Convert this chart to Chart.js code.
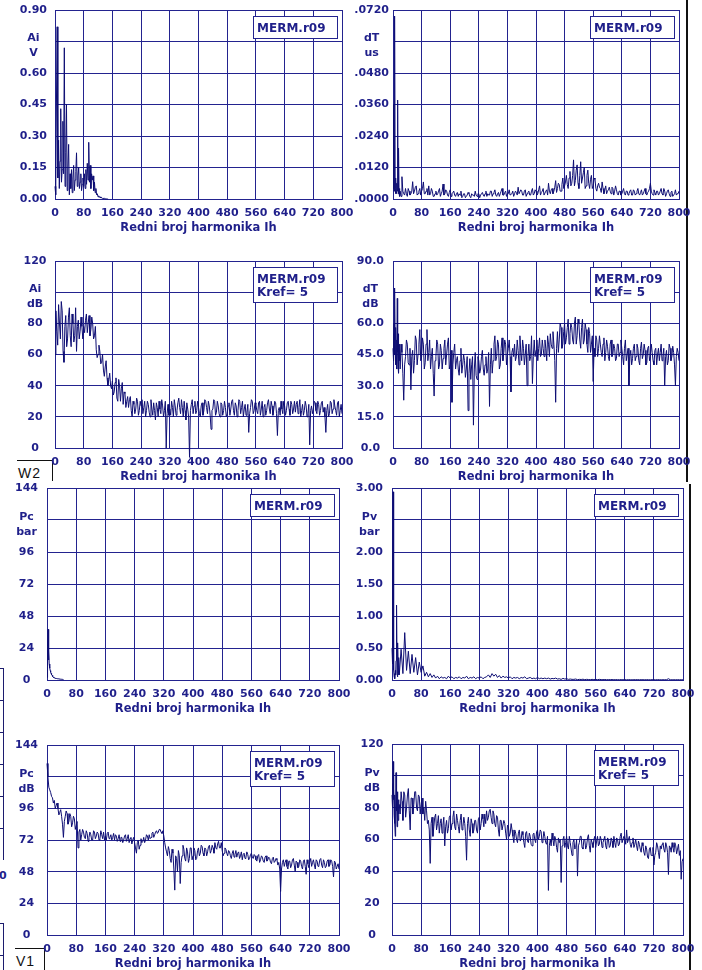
<!DOCTYPE html>
<html>
<head>
<meta charset="utf-8">
<script src="https://cdn.jsdelivr.net/npm/chart.js@4.4.1/dist/chart.umd.min.js"></script>
<style>
html,body{margin:0;padding:0;background:#fff}
#page{position:relative;width:702px;height:970px;overflow:hidden;background:#fff}
#page canvas{position:absolute}
.frag{position:absolute;background:#1c1c6e}
.blk{position:absolute;background:#111}
.tag{position:absolute;font:14px "Liberation Sans",Arial,sans-serif;color:#111;border-top:1px solid #111;border-right:1px solid #111;box-sizing:border-box;padding:4px 0 0 1px;letter-spacing:1px}
.stray{position:absolute;font:bold 11px "DejaVu Sans",sans-serif;color:#1f1f8a}
</style>
</head>
<body>
<div id="page">
  <div class="blk" style="left:686px;top:0;width:2px;height:482px"></div>
  <div class="blk" style="left:689px;top:484px;width:2px;height:486px"></div>
  <div class="frag" style="left:0;top:668px;width:4px;height:1px"></div>
  <div class="frag" style="left:3px;top:668px;width:1px;height:192px"></div>
  <div class="frag" style="left:0;top:700px;width:3px;height:1px"></div>
  <div class="frag" style="left:0;top:732px;width:3px;height:1px"></div>
  <div class="frag" style="left:0;top:764px;width:3px;height:1px"></div>
  <div class="frag" style="left:0;top:796px;width:3px;height:1px"></div>
  <div class="frag" style="left:0;top:828px;width:3px;height:1px"></div>
  <div class="frag" style="left:0;top:923px;width:4px;height:1px"></div>
  <div class="frag" style="left:3px;top:923px;width:1px;height:47px"></div>
  <div class="frag" style="left:0;top:955px;width:3px;height:1px"></div>
  <div class="stray" style="left:-1px;top:869px">0</div>
  <div class="tag" style="left:17px;top:460px;width:36px;height:21px">W2</div>
  <div class="tag" style="left:15px;top:948px;width:30px;height:22px">V1</div>
</div>
<script>
// ---- data (harmonic spectra, MERM.r09) ----
const harmLabels = ['0','80','160','240','320','400','480','560','640','720','800'];

// Ai [V], harmonics 0..150 step 2
const aiVolt = [
  .06,.02,.45,.82,.10,.28,.05,.18,.43,.08,
  .14,.37,.12,.72,.06,.22,.45,.04,.15,.26,
  .02,.12,.05,.14,.03,.10,.16,.04,.09,.13,
  .22,.06,.11,.15,.05,.08,.12,.04,.07,.10,
  .06,.12,.05,.14,.07,.17,.09,.27,.08,.16,
  .05,.12,.09,.11,.04,.08,.03,.05,.02,.025,
  .01,.015,.008,.01,.005,.006,.003,.004,.002,.003,
  .001,.002,0,0,0,0
];
const aiVoltTicks = ['0.00','0.15','0.30','0.45','0.60','','0.90'];
const aiVoltUnit = ['Ai','V'];

// dT [us], harmonics 0..19 step 1, body 20..800 step 5, mid 22.5..797.5 step 5
const dtUsHead = [.004,.010,.036,.003,.012,.0697,.004,.002,.008,.003,.002,.006,.003,.0377,.004,.002,.0194,.002,.004,.001];
const dtUsBody = [
  .003,.0085,.002,.004,.001,.003,.002,.0066,.003,.005,.002,.004,.003,.0065,.002,.004,
  .005,.002,.003,.001,.003,.002,.004,.002,.0057,.002,.003,.001,.0035,.002,.003,.001,
  .0025,.002,.003,.001,.002,.001,.0025,.001,.002,.0015,.003,.001,.002,.0015,.0025,.001,
  .003,.002,.0015,.003,.002,.0035,.001,.0025,.002,.004,.0015,.003,.002,.0035,.0015,.003,
  .002,.0025,.0045,.002,.003,.0015,.0035,.002,.003,.0015,.004,.002,.003,.002,.005,.0025,
  .004,.0015,.0035,.006,.002,.004,.003,.007,.004,.0055,.003,.008,.005,.009,.004,.0105,
  .006,.0149,.007,.013,.004,.0142,.008,.012,.005,.011,.004,.009,.005,.0075,.003,.006,
  .004,.0065,.002,.005,.003,.0045,.002,.004,.003,.0035,.0015,.003,.002,.004,.0015,.003,
  .002,.0035,.0015,.003,.002,.004,.0015,.0035,.002,.004,.0015,.003,.006,.002,.0035,.0015,
  .003,.002,.004,.0015,.003,.002,.0035,.001,.003,.0015,.0035,.002,.003
];
const dtUsMid = [
  .001,.003,.0015,.002,.004,.0015,.003,.002,.0045,.0015,.003,.0015,.004,.002,.003,.0015,
  .0015,.004,.001,.002,.0015,.003,.001,.003,.0015,.0035,.0015,.0025,.001,.0025,.0015,.002,
  .001,.0015,.0005,.002,.0005,.0015,.002,.0005,.0015,.001,.0015,.002,.0005,.002,.0015,.002,
  .001,.0015,.003,.001,.0025,.0015,.002,.001,.003,.0015,.0025,.001,.002,.0015,.002,.001,
  .003,.0015,.002,.0035,.0015,.003,.001,.0025,.0015,.003,.0015,.0035,.0015,.0035,.0015,.003,
  .0015,.003,.0015,.003,.0035,.002,.0045,.0025,.006,.003,.0055,.004,.0065,.0055,.008,.005,
  .009,.005,.011,.006,.009,.006,.01,.004,.009,.006,.0075,.004,.008,.004,.005,.0045,
  .0025,.004,.0035,.002,.0035,.003,.0045,.0015,.005,.002,.003,.0015,.003,.002,.003,.0015,
  .003,.0015,.0035,.0015,.003,.002,.0025,.0015,.003,.002,.0025,.004,.003,.0015,.0025,.003,
  .0015,.003,.002,.004,.001,.003,.002,.0025,.001,.002,.0015,.002
];
const dtUsTicks = ['.0000','.0120','.0240','.0360','.0480','','.0720'];
const dtUsUnit = ['dT','us'];

// Ai [dB], harmonics 0..800 step 5, mid 2.5..797.5 step 5
const aiDb = [
  60,75,92,70,88,55,85,70,90,65,80,72,62,82,75,78,
  78,82,74,85,76,80,72,63,60,62,55,50,52,45,44,40,
  43,36,45,30,40,38,28,35,30,26,33,20,28,25,30,24,
  27,22,30,24,28,20,25,29,18,26,30,22,27,24,0,28,
  25,30,20,27,24,32,22,26,30,18,25,-6,28,22,30,24,
  26,20,29,24,30,22,27,12,25,30,23,27,20,28,24,26,
  22,29,25,31,21,27,24,30,26,20,28,23,10,26,30,24,
  28,22,30,25,20,28,24,31,22,27,25,29,8,26,30,22,
  27,24,30,21,28,25,23,30,26,20,28,24,27,22,2,27,
  25,29,22,28,24,30,26,10,28,22,29,25,27,21,30,24,
  22
];
const aiDbMid = [
  88,66,80,94,62,78,65,84,72,86,68,90,78,70,84,70,
  74,86,80,72,84,70,78,58,66,54,60,46,56,40,48,38,
  34,42,32,44,30,42,36,26,33,31,24,30,22,32,21,30,
  31,26,20,30,23,31,21,24,29,20,25,31,20,30,22,21,
  21,26,31,21,29,26,31,20,24,29,20,24,31,27,22,30,
  22,27,21,31,26,30,21,24,31,21,30,22,29,21,30,20,
  27,21,30,24,29,20,31,22,30,25,21,28,22,31,22,29,
  24,29,21,30,26,21,29,25,30,21,30,22,24,21,25,30,
  21,29,25,30,22,30,28,22,31,24,21,30,20,28,24,22,
  30,24,30,21,29,23,20,24,20,30,22,31,24,29,20,28
];
const aiDbTicks = ['0','20','40','60','80','','120'];
const aiDbUnit = ['Ai','dB'];

// dT [dB], harmonics 0..19 step 1, body 20..800 step 5, mid 22.5..797.5 step 5
const dtDbHead = [48,55,42,60,45,77,50,40,58,44,52,38,72,46,40,55,36,48,42,50];
const dtDbBody = [
  38,46,23,44,50,40,28,47,42,52,45,57,44,50,41,57,
  46,38,48,25,44,50,40,47,43,52,45,53,40,22,46,38,
  44,35,48,40,42,38,18,43,40,11,46,33,42,38,47,35,
  44,38,20,48,42,54,44,50,40,53,46,50,45,52,27,48,
  50,44,47,54,42,48,45,30,50,44,31,52,47,42,53,45,
  48,52,42,50,55,48,50,22,56,52,58,50,60,53,62,55,
  58,50,63,54,60,48,62,52,57,46,55,50,32,44,52,48,
  50,44,53,46,49,42,52,45,48,43,50,46,48,40,52,45,
  30,47,43,50,44,48,40,51,45,47,41,49,44,46,40,48,
  45,42,50,44,30,47,42,48,44,46,30,48,42
];
const dtDbMid = [
  50,36,40,52,41,48,44,36,54,40,50,42,53,38,50,42,
  52,44,36,42,52,38,50,38,48,40,50,38,47,40,50,42,
  38,42,36,45,34,44,36,33,44,38,35,44,36,44,38,40,
  36,46,40,36,50,42,52,38,48,42,52,40,48,44,46,44,
  42,52,40,46,52,40,50,44,42,54,44,44,52,48,44,52,
  44,48,54,44,50,56,42,48,46,60,48,56,50,58,50,60,
  52,60,50,62,52,58,50,60,50,58,46,54,48,54,44,54,
  46,50,42,52,44,50,44,50,42,50,44,52,44,48,42,48,
  44,40,48,42,50,42,48,43,50,40,48,42,50,42,47,40,
  48,46,42,48,44,40,50,42,49,40,44,46
];
const dtDbTicks = ['0.0','15.0','30.0','45.0','60.0','','90.0'];
const dtDbUnit = ['dT','dB'];

// Pc [bar], harmonics 0..45 step 1
const pcBar = [2,8,25,38,15,22,12,10,9,7,6,5,4.5,4,3.5,3,2.6,2.3,2,1.8,1.6,1.5,1.4,1.3,1.2,1.2,1.1,1.1,1,1,
  .9,.9,.8,.8,.8,.7,.7,.6,.6,.6,.5,.5,.5,.4,.3,.2];
const pcBarTicks = ['0','24','48','72','96','','144'];
const pcBarUnit = ['Pc','bar'];

// Pv [bar], harmonics 0..19 step 1, then 20..800 step 5
const pvBarHead = [.5,.25,1.56,2.94,.3,.15,.05,.1,.02,.15,.08,.3,.55,1.17,.1,.05,.58,.2,.08,.35];
const pvBarBody = [
  .08,.48,.1,.74,.15,.45,.1,.4,.12,.35,.08,.28,.12,.22,.06,.12,
  .05,.1,.04,.08,.03,.06,.02,.05,.03,.04,.02,.06,.03,.05,.02,.04,
  .03,.05,.02,.04,.03,.06,.02,.04,.03,.05,.02,.04,.03,.05,.02,.04,
  .05,.08,.04,.1,.06,.09,.04,.07,.03,.06,.04,.05,.03,.05,.02,.04,
  .03,.04,.02,.04,.03,.05,.02,.03,.04,.02,.03,.02,.04,.02,.03,.02,
  .03,.02,.03,.015,.025,.02,.03,.015,.02,.01,.025,.015,.02,.01,.015,.01,
  .01,.015,.005,.01,.008,.012,.005,.01,.008,.005,.01,.006,.008,.005,.01,.006,
  .005,.008,.004,.006,.005,.007,.004,.006,.005,.004,.006,.004,.005,.003,.005,.004,
  .003,.005,.004,.006,.003,.005,.004,.003,.005,.004,.003,.005,.004,.003,.005,.004,
  .003,.004,.003,.005,.02,.004,.003,.004,.003,.005,.003,.004,.003
];
const pvBarTicks = ['0.00','0.50','1.00','1.50','2.00','','3.00'];
const pvBarUnit = ['Pv','bar'];

// Pc [dB], harmonics 0..800 step 5, mid 2.5..797.5 step 5
const pcDb = [
  130,112,108,104,102,98,96,93,90,74,90,92,86,90,85,88,
  83,66,80,76,78,73,77,74,76,72,78,75,77,73,76,78,
  75,77,73,76,74,72,75,73,71,74,72,76,73,70,74,72,
  70,62,72,68,70,74,72,75,76,74,78,76,79,78,80,77,
  75,66,60,64,55,62,34,58,64,39,60,65,56,63,58,66,
  60,64,58,66,62,67,60,65,63,68,64,66,70,65,71,66,
  64,62,65,60,63,58,64,61,59,63,60,57,62,59,61,58,
  62,58,60,56,61,57,59,55,60,57,58,54,59,56,57,55,
  33,55,52,57,50,56,53,58,48,55,52,56,50,57,46,54,
  55,52,57,50,56,53,58,51,55,52,57,53,56,44,55,52,
  50
];
const pcDbMid = [
  120,110,105,100,96,100,91,95,84,86,94,84,92,82,90,80,
  86,78,72,80,74,79,71,78,72,79,73,78,72,79,73,72,
  72,78,74,72,77,76,71,76,74,70,75,71,76,73,69,74,
  66,70,65,73,71,70,76,72,73,77,74,78,77,80,78,79,
  70,63,67,58,65,50,60,48,60,55,68,58,66,55,66,57,
  66,57,64,60,68,62,66,60,67,62,68,62,66,69,66,70,
  60,66,62,64,60,62,59,64,62,58,63,61,58,63,57,61,
  59,61,57,60,55,60,56,59,56,59,55,58,55,58,53,50,
  50,57,55,52,56,51,57,53,56,51,57,52,56,52,57,51,
  58,55,53,57,52,57,53,57,51,56,52,57,52,56,50,54
];
const pcDbTicks = ['0','24','48','72','96','','144'];
const pcDbUnit = ['Pc','dB'];

// Pv [dB], harmonics 0..19 step 1, body 20..800 step 5, mid 22.5..797.5 step 5
const pvDbHead = [88,95,80,109,85,92,75,88,70,62,80,102,78,85,68,90,78,72,85,76];
const pvDbBody = [
  82,90,72,88,80,92,66,86,82,90,78,87,82,76,72,78,
  72,45,74,68,76,70,64,73,69,56,72,67,75,70,78,66,
  72,64,76,68,70,47,74,62,70,66,72,64,74,70,73,76,
  78,74,79,70,76,68,74,62,72,66,70,60,68,64,66,58,
  64,58,66,60,63,55,65,58,62,56,64,58,66,62,65,60,
  62,57,28,60,64,56,60,52,58,33,60,55,62,54,58,50,
  60,55,37,58,62,54,60,56,63,52,58,60,55,62,57,60,
  58,62,54,60,56,59,62,55,60,57,64,58,61,66,60,57,
  58,55,60,53,57,52,56,50,54,48,55,50,44,52,56,48,
  54,58,52,56,38,55,58,52,56,54,50,35,48
];
const pvDbMid = [
  76,84,90,74,88,78,86,76,90,80,88,76,86,80,84,70,
  66,70,62,74,66,75,70,64,74,68,64,74,66,74,68,76,
  68,72,66,74,62,70,66,73,64,72,66,73,66,76,68,70,
  72,78,74,78,70,75,66,72,66,72,64,69,62,70,62,66,
  60,64,59,65,58,64,59,64,57,63,60,65,60,66,58,65,
  58,62,56,56,60,62,55,61,60,56,62,58,56,62,54,58,
  54,60,56,62,55,60,54,61,56,60,55,62,59,56,62,55,
  60,56,61,55,61,55,58,61,56,62,58,62,57,58,62,55,
  61,57,56,59,54,58,52,56,49,54,50,55,50,58,52,56,
  57,54,58,52,56,52,55,58,51,57,53,46
];
const pvDbTicks = ['0','20','40','60','80','','120'];
const pvDbUnit = ['Pv','dB'];

// ---- drawing ----
const NAVY = '#23238f';
const TEXT = '#1f1f8a';
const LINE = '#0d0d73';
const FONT = '"DejaVu Sans", sans-serif';
Chart.defaults.font = {family: FONT, size: 11, weight: 'bold'};
Chart.defaults.color = TEXT;

function pts(values, start, step){
  return values.map((v,i)=>({x:start+i*step, y:v}));
}
function merge(...parts){
  return parts.flat().sort((a,b)=>a.x-b.x);
}

// file name box in the top right corner + unit caption on the y axis
const decor = p => ({
  id:'decor',
  afterDraw(chart){
    const {ctx, chartArea:a} = chart;
    const lines = p.box;
    const w = 85, h = lines.length>1 ? 36 : 23;
    const x = Math.round(a.right-4-w), y = Math.round(a.top+6);
    ctx.save();
    ctx.fillStyle='#fff'; ctx.fillRect(x,y,w,h);
    ctx.strokeStyle=NAVY; ctx.lineWidth=1; ctx.strokeRect(x+.5,y+.5,w-1,h-1);
    ctx.fillStyle=TEXT; ctx.font='bold 12px '+FONT; ctx.textBaseline='middle';
    lines.forEach((t,i)=>ctx.fillText(t, x+4, y+(lines.length>1?13:12.5)+i*13));

    ctx.font='bold 11px '+FONT;
    const widest = Math.max(...p.ticks.map(t=>ctx.measureText(t).width));
    const cx = a.left - p.pad - widest/2;
    const ty = chart.scales.y.getPixelForValue(p.yMax*5/6);
    ctx.textAlign='center';
    ctx.fillText(p.unit[0], cx, ty-3);
    ctx.fillText(p.unit[1], cx, ty+12);
    ctx.restore();
  }
});

const one = ['MERM.r09'], two = ['MERM.r09','Kref= 5'];
const panels = [
  {x0:0,   plot:[55,10,342,199],  yMax:0.9,   step:0.15,  ticks:aiVoltTicks, unit:aiVoltUnit, pad:8,
   data:pts(aiVolt,0,2), box:one},
  {x0:350, plot:[393,10,679,199], yMax:0.072, step:0.012, ticks:dtUsTicks, unit:dtUsUnit, pad:4,
   data:merge(pts(dtUsHead,0,1), pts(dtUsBody,20,5), pts(dtUsMid,22.5,5)), box:one},
  {x0:0,   plot:[55,261,342,448], yMax:120,   step:20,    ticks:aiDbTicks, unit:aiDbUnit, pad:8.5,
   data:merge(pts(aiDb,0,5), pts(aiDbMid,2.5,5)), box:two},
  {x0:350, plot:[393,261,679,448],yMax:90,    step:15,    ticks:dtDbTicks, unit:dtDbUnit, pad:9,
   data:merge(pts(dtDbHead,0,1), pts(dtDbBody,20,5), pts(dtDbMid,22.5,5)), box:two},
  {x0:0,   plot:[47,488,339,680], yMax:144,   step:24,    ticks:pcBarTicks, unit:pcBarUnit, pad:9,
   data:pts(pcBar,0,1), box:one},
  {x0:350, plot:[392,488,683,680],yMax:3,     step:0.5,   ticks:pvBarTicks, unit:pvBarUnit, pad:9,
   data:merge(pts(pvBarHead,0,1), pts(pvBarBody,20,5)), box:one},
  {x0:0,   plot:[47,745,339,935], yMax:144,   step:24,    ticks:pcDbTicks, unit:pcDbUnit, pad:9,
   data:merge(pts(pcDb,0,5), pts(pcDbMid,2.5,5)), box:two},
  {x0:350, plot:[392,744,683,935],yMax:120,   step:20,    ticks:pvDbTicks, unit:pvDbUnit, pad:8.5,
   data:merge(pts(pvDbHead,0,1), pts(pvDbBody,20,5), pts(pvDbMid,22.5,5)), box:two},
];

const page = document.getElementById('page');
panels.forEach(p=>{
  const [l,t,r,b] = p.plot;
  const W = 390, H = b-t+56;
  const cv = document.createElement('canvas');
  cv.width = W; cv.height = H;
  cv.style.left = p.x0+'px'; cv.style.top = (t-20)+'px';
  page.appendChild(cv);
  new Chart(cv,{
    type:'line',
    data:{datasets:[{data:p.data, borderColor:LINE, borderWidth:1, pointRadius:0, tension:0, fill:false, clip:12}]},
    options:{
      responsive:false, animation:false, events:[], parsing:false,
      layout:{padding:{left:0, top:20, right:W-(r-p.x0), bottom:0}},
      plugins:{legend:{display:false}, tooltip:{enabled:false}},
      scales:{
        x:{type:'linear', min:0, max:800,
          afterFit:s=>{s.height=36;},
          grid:{color:NAVY, lineWidth:1, drawTicks:false},
          border:{color:NAVY},
          ticks:{stepSize:80, autoSkip:false, maxRotation:0, padding:8, callback:(v,i)=>harmLabels[i]},
          title:{display:true, text:'Redni broj harmonika Ih', color:TEXT, padding:{top:0,bottom:0},
                 font:{size:11.5, weight:'bold'}}},
        y:{min:0, max:p.yMax,
          afterFit:s=>{s.width=l-p.x0;},
          grid:{color:NAVY, lineWidth:1, drawTicks:false},
          border:{color:NAVY},
          ticks:{stepSize:p.step, maxTicksLimit:20, autoSkip:false, crossAlign:'center', padding:p.pad,
                 callback:(v,i)=>p.ticks[i]}}
      }
    },
    plugins:[decor(p)]
  });
});
</script>
</body>
</html>
